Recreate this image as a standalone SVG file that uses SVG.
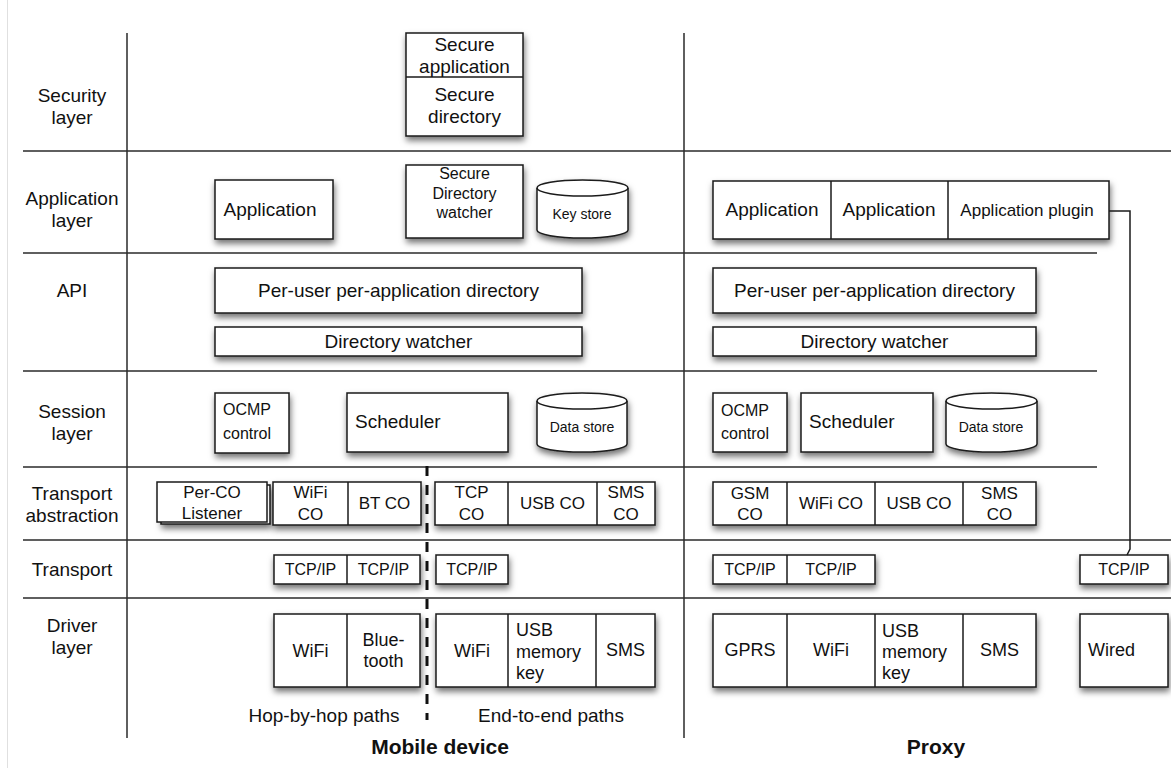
<svg xmlns="http://www.w3.org/2000/svg" width="1171" height="768" viewBox="0 0 1171 768">
<defs>
<filter id="sh" x="-20%" y="-20%" width="140%" height="160%">
<feDropShadow dx="1" dy="4" stdDeviation="3" flood-color="#000" flood-opacity="0.55"/>
</filter>
<style>
text{font-family:"Liberation Sans",Arial,sans-serif;fill:#111;}
.b{fill:#fff;stroke:#1a1a1a;stroke-width:1.5;}
.s{filter:url(#sh);}
.d{fill:none;stroke:#1a1a1a;stroke-width:1.5;}
.g{stroke:#2a2a2a;stroke-width:1.5;fill:none;}
.t19{font-size:19px;}
.t18{font-size:18px;}
.t17{font-size:17px;}
.t16{font-size:16px;}
.t14{font-size:14px;}
.c{text-anchor:middle;}
.bold{font-weight:bold;font-size:21px;}
</style>
</defs>
<rect width="1171" height="768" fill="#fff"/>
<line x1="7.5" y1="0" x2="7.5" y2="768" stroke="#e0e0e0" stroke-width="1"/>

<g id="grid">
<line class="g" x1="127" y1="33" x2="127" y2="738"/>
<line class="g" x1="684" y1="33" x2="684" y2="738"/>
<line class="g" x1="23" y1="151" x2="1171" y2="151"/>
<line class="g" x1="23" y1="253" x2="1097" y2="253"/>
<line class="g" x1="23" y1="371" x2="1097" y2="371"/>
<line class="g" x1="23" y1="467" x2="1097" y2="467"/>
<line class="g" x1="23" y1="540" x2="1171" y2="540"/>
<line class="g" x1="23" y1="598" x2="1171" y2="598"/>
<line x1="427" y1="466" x2="427" y2="720" stroke="#111" stroke-width="3" stroke-dasharray="10 9"/>
</g>

<g id="labels">
<text class="t19 c" x="72" y="102">Security</text>
<text class="t19 c" x="72" y="124">layer</text>
<text class="t19 c" x="72" y="205">Application</text>
<text class="t19 c" x="72" y="227">layer</text>
<text class="t19 c" x="72" y="297">API</text>
<text class="t19 c" x="72" y="418">Session</text>
<text class="t19 c" x="72" y="440">layer</text>
<text class="t19 c" x="72" y="500">Transport</text>
<text class="t19 c" x="72" y="522">abstraction</text>
<text class="t19 c" x="72" y="576">Transport</text>
<text class="t19 c" x="72" y="632">Driver</text>
<text class="t19 c" x="72" y="654">layer</text>
<text class="t19 c" x="324" y="722">Hop-by-hop paths</text>
<text class="t19 c" x="551" y="722">End-to-end paths</text>
<text class="bold c" x="440" y="754">Mobile device</text>
<text class="bold c" x="936" y="754">Proxy</text>
</g>

<g id="secure-stack">
<rect class="b s" x="406" y="33" width="117" height="103"/>
<line class="d" x1="406" y1="77" x2="523" y2="77"/>
<text class="t19 c" x="464.5" y="51">Secure</text>
<text class="t19 c" x="464.5" y="73">application</text>
<text class="t19 c" x="464.5" y="101">Secure</text>
<text class="t19 c" x="464.5" y="123">directory</text>
</g>

<g id="m-application">
<rect class="b s" x="215" y="180" width="118" height="59"/>
<text class="t19 c" x="270" y="216">Application</text>
</g>
<g id="m-secure-dir-watcher">
<rect class="b s" x="406" y="165" width="117" height="73"/>
<text class="t16 c" x="464.5" y="179">Secure</text>
<text class="t16 c" x="464.5" y="199">Directory</text>
<text class="t16 c" x="464.5" y="218">watcher</text>
</g>
<g id="m-key-store">
<path class="b s" d="M537,188 A45.5,8 0 0,1 628,188 L628,230 A45.5,8 0 0,1 537,230 Z"/>
<path class="d" d="M537,188 A45.5,8 0 0,0 628,188"/>
<text class="t14 c" x="582" y="219">Key store</text>
</g>

<g id="p-applications">
<rect class="b s" x="713" y="181" width="396" height="58"/>
<line class="d" x1="831" y1="181" x2="831" y2="239"/>
<line class="d" x1="948" y1="181" x2="948" y2="239"/>
<text class="t19 c" x="772" y="216">Application</text>
<text class="t19 c" x="889" y="216">Application</text>
<text class="t17 c" x="1027" y="216">Application plugin</text>
</g>

<g id="m-per-user">
<rect class="b s" x="215" y="268" width="367" height="45"/>
<text class="t19 c" x="398.5" y="297">Per-user per-application directory</text>
</g>
<g id="m-dir-watcher">
<rect class="b s" x="215" y="327" width="367" height="29"/>
<text class="t19 c" x="398.5" y="348">Directory watcher</text>
</g>
<g id="p-per-user">
<rect class="b s" x="713" y="268" width="323" height="45"/>
<text class="t19 c" x="874.5" y="297">Per-user per-application directory</text>
</g>
<g id="p-dir-watcher">
<rect class="b s" x="713" y="327" width="323" height="29"/>
<text class="t19 c" x="874.5" y="348">Directory watcher</text>
</g>

<g id="m-ocmp">
<rect class="b s" x="215" y="393" width="74" height="60"/>
<text class="t16" x="223" y="415">OCMP</text>
<text class="t16" x="223" y="439">control</text>
</g>
<g id="m-scheduler">
<rect class="b s" x="347" y="393" width="161" height="59"/>
<text class="t19" x="355" y="428">Scheduler</text>
</g>
<g id="m-data-store">
<path class="b s" d="M537,401 A45,8 0 0,1 627,401 L627,444 A45,8 0 0,1 537,444 Z"/>
<path class="d" d="M537,401 A45,8 0 0,0 627,401"/>
<text class="t14 c" x="582" y="432">Data store</text>
</g>
<g id="p-ocmp">
<rect class="b s" x="713" y="393" width="74" height="59"/>
<text class="t16" x="721" y="416">OCMP</text>
<text class="t16" x="721" y="439">control</text>
</g>
<g id="p-scheduler">
<rect class="b s" x="801" y="393" width="132" height="59"/>
<text class="t19" x="809" y="428">Scheduler</text>
</g>
<g id="p-data-store">
<path class="b s" d="M946,401 A45.5,8 0 0,1 1037,401 L1037,444 A45.5,8 0 0,1 946,444 Z"/>
<path class="d" d="M946,401 A45.5,8 0 0,0 1037,401"/>
<text class="t14 c" x="991" y="432">Data store</text>
</g>

<g id="m-per-co-listener">
<rect class="b s" x="161" y="485" width="109" height="39"/>
<rect class="b" x="157" y="482" width="110" height="40"/>
<text class="t17 c" x="212" y="498">Per-CO</text>
<text class="t17 c" x="212" y="519">Listener</text>
</g>
<g id="m-hop-cos">
<rect class="b s" x="273" y="482" width="148" height="43"/>
<line class="d" x1="348" y1="482" x2="348" y2="525"/>
<text class="t17 c" x="310.5" y="498">WiFi</text>
<text class="t17 c" x="310.5" y="520">CO</text>
<text class="t17 c" x="384.5" y="509">BT CO</text>
</g>
<g id="m-e2e-cos">
<rect class="b s" x="435" y="482" width="220" height="43"/>
<line class="d" x1="508" y1="482" x2="508" y2="525"/>
<line class="d" x1="597" y1="482" x2="597" y2="525"/>
<text class="t17 c" x="471.5" y="498">TCP</text>
<text class="t17 c" x="471.5" y="520">CO</text>
<text class="t17 c" x="552.5" y="509">USB CO</text>
<text class="t17 c" x="626" y="498">SMS</text>
<text class="t17 c" x="626" y="520">CO</text>
</g>
<g id="p-cos">
<rect class="b s" x="713" y="482" width="323" height="43"/>
<line class="d" x1="787" y1="482" x2="787" y2="525"/>
<line class="d" x1="875" y1="482" x2="875" y2="525"/>
<line class="d" x1="963" y1="482" x2="963" y2="525"/>
<text class="t17 c" x="750" y="499">GSM</text>
<text class="t17 c" x="750" y="520">CO</text>
<text class="t17 c" x="831" y="509">WiFi CO</text>
<text class="t17 c" x="919" y="509">USB CO</text>
<text class="t17 c" x="999.5" y="499">SMS</text>
<text class="t17 c" x="999.5" y="520">CO</text>
</g>

<g id="m-hop-tcpip">
<rect class="b s" x="274" y="555" width="146" height="29"/>
<line class="d" x1="347" y1="555" x2="347" y2="584"/>
<text class="t16 c" x="310.5" y="575">TCP/IP</text>
<text class="t16 c" x="383.5" y="575">TCP/IP</text>
</g>
<g id="m-e2e-tcpip">
<rect class="b s" x="436" y="555" width="72" height="29"/>
<text class="t16 c" x="472" y="575">TCP/IP</text>
</g>
<g id="p-tcpip">
<rect class="b s" x="713" y="555" width="162" height="29"/>
<line class="d" x1="787" y1="555" x2="787" y2="584"/>
<text class="t16 c" x="750" y="575">TCP/IP</text>
<text class="t16 c" x="831" y="575">TCP/IP</text>
</g>
<g id="p-tcpip-wired">
<rect class="b s" x="1080" y="555" width="88" height="29"/>
<text class="t16 c" x="1124" y="575">TCP/IP</text>
</g>

<g id="m-hop-drivers">
<rect class="b s" x="274" y="614" width="146" height="73"/>
<line class="d" x1="347" y1="614" x2="347" y2="687"/>
<text class="t18 c" x="310.5" y="657">WiFi</text>
<text class="t18 c" x="383.5" y="646">Blue-</text>
<text class="t18 c" x="383.5" y="667">tooth</text>
</g>
<g id="m-e2e-drivers">
<rect class="b s" x="436" y="614" width="219" height="73"/>
<line class="d" x1="508" y1="614" x2="508" y2="687"/>
<line class="d" x1="596" y1="614" x2="596" y2="687"/>
<text class="t18 c" x="472" y="657">WiFi</text>
<text class="t18" x="516" y="636">USB</text>
<text class="t18" x="516" y="658">memory</text>
<text class="t18" x="516" y="679">key</text>
<text class="t18 c" x="625.5" y="656">SMS</text>
</g>
<g id="p-drivers">
<rect class="b s" x="713" y="614" width="323" height="73"/>
<line class="d" x1="787" y1="614" x2="787" y2="687"/>
<line class="d" x1="875" y1="614" x2="875" y2="687"/>
<line class="d" x1="963" y1="614" x2="963" y2="687"/>
<text class="t18 c" x="750" y="656">GPRS</text>
<text class="t18 c" x="831" y="656">WiFi</text>
<text class="t18" x="882" y="637">USB</text>
<text class="t18" x="882" y="658">memory</text>
<text class="t18" x="882" y="679">key</text>
<text class="t18 c" x="999.5" y="656">SMS</text>
</g>
<g id="p-wired">
<rect class="b s" x="1080" y="614" width="88" height="73"/>
<text class="t18" x="1088" y="656">Wired</text>
</g>

<g id="connectors">
<polyline class="d" points="1109,211 1130,211 1130,549 1127,555"/>
</g>
</svg>
